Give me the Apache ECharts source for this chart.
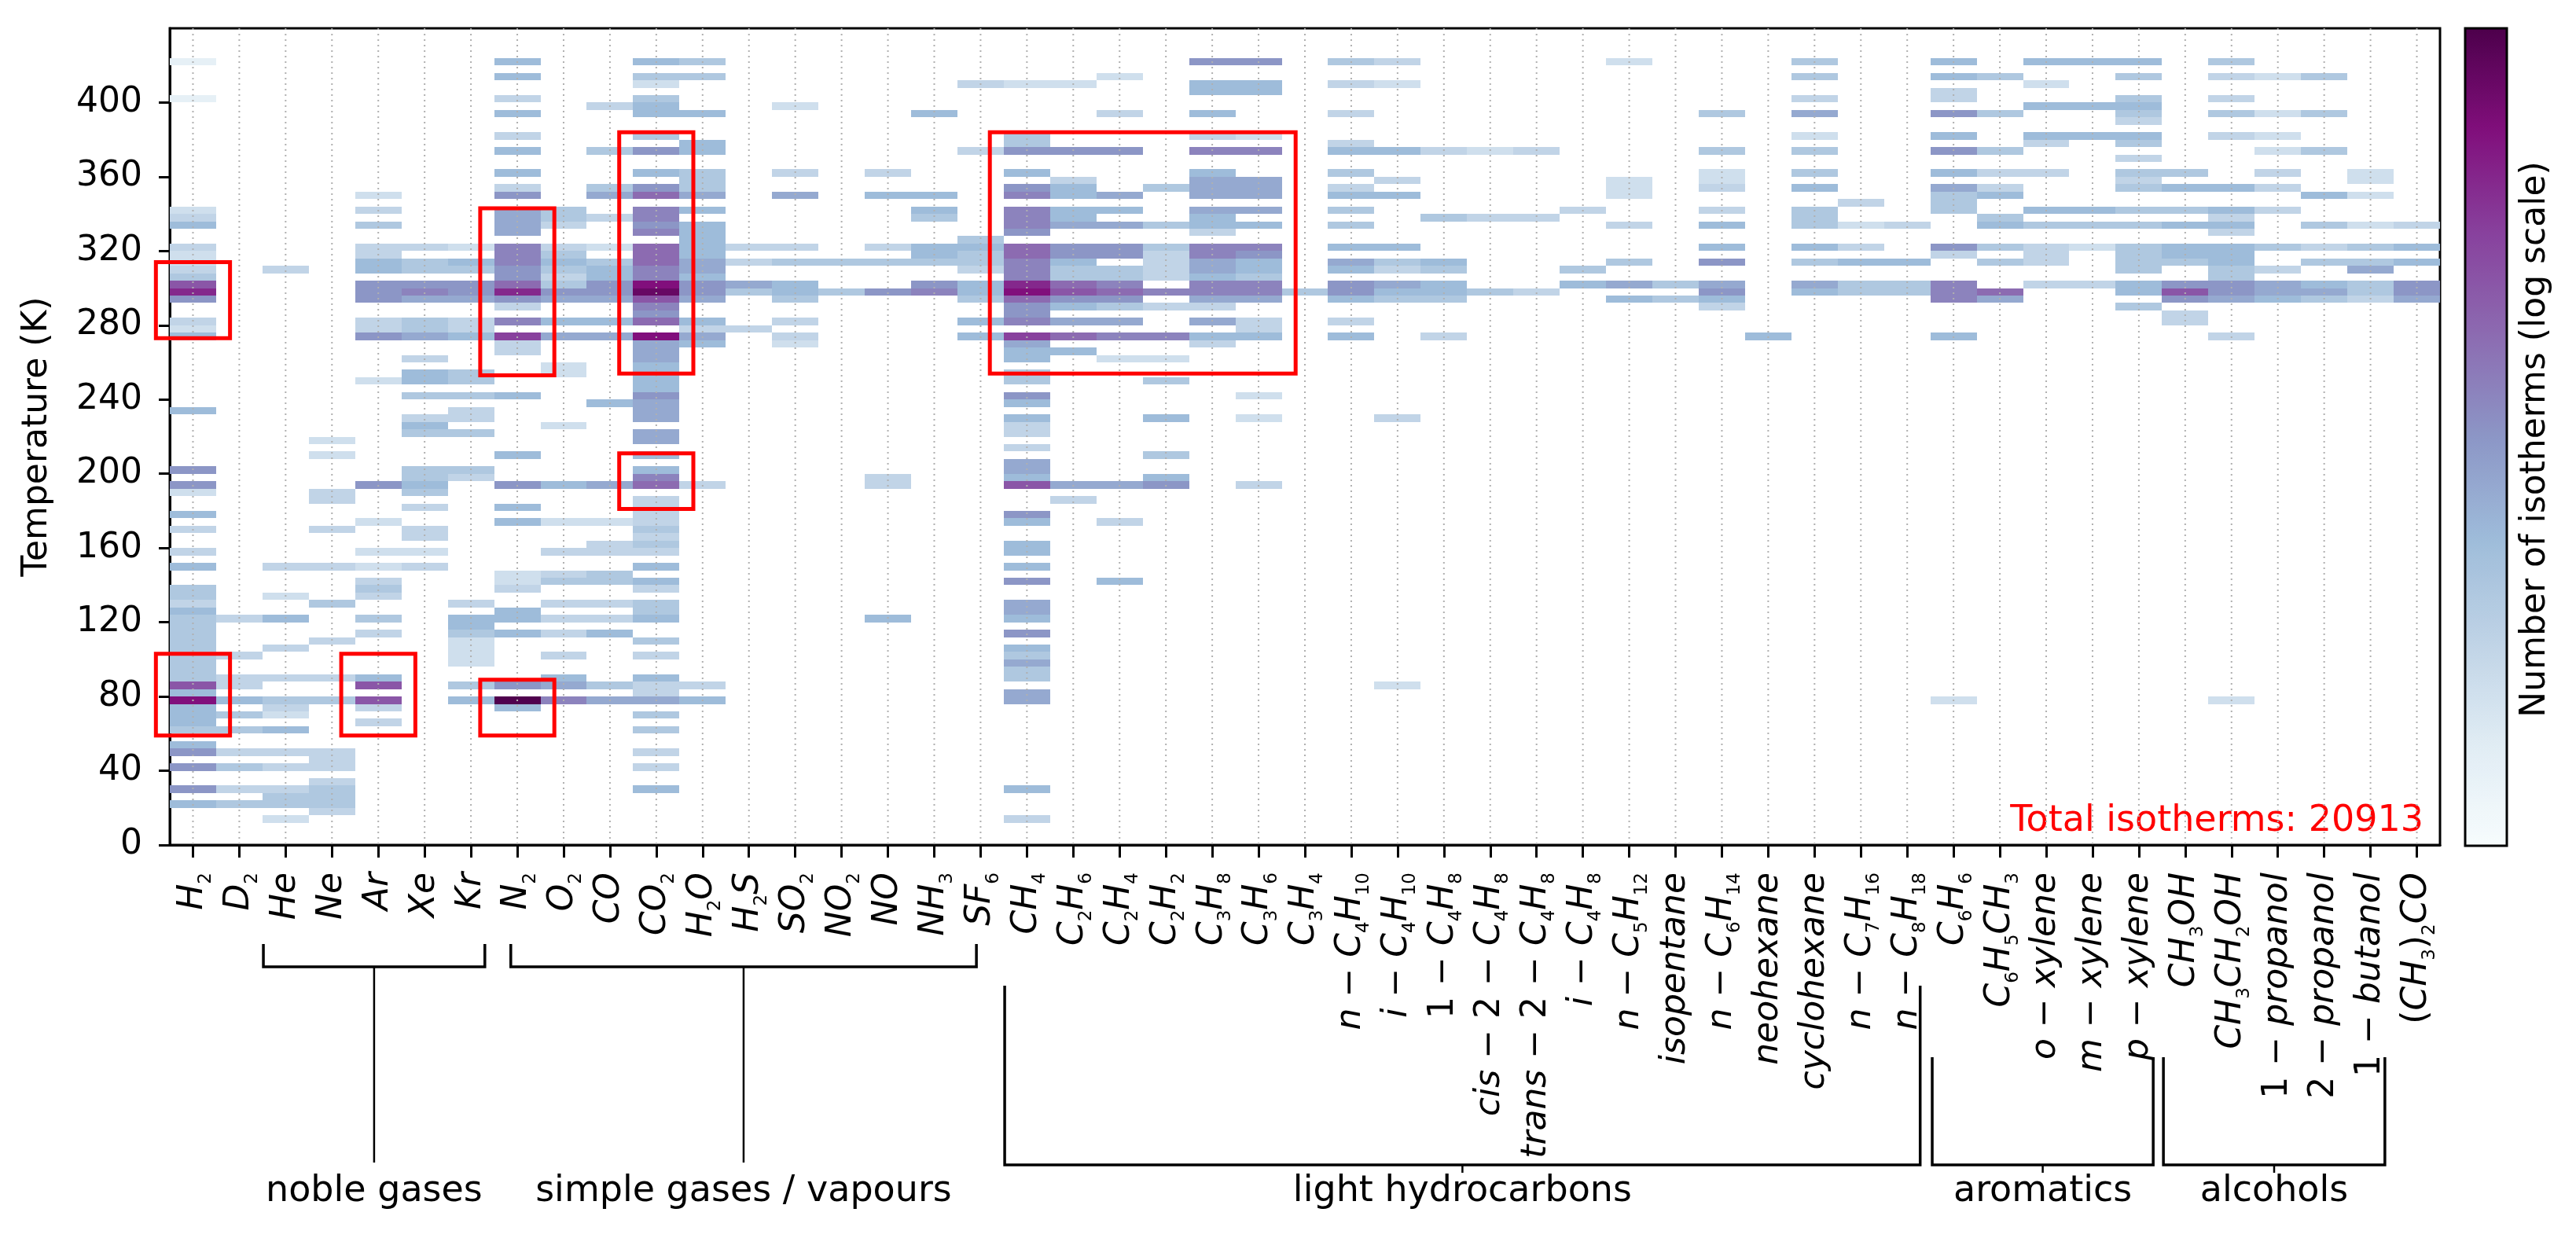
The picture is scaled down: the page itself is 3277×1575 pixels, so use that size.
<!DOCTYPE html>
<html><head><meta charset="utf-8">
<script src="https://cdn.jsdelivr.net/npm/echarts@6.0.0/dist/echarts.min.js"></script>
<style>html,body{margin:0;padding:0;background:#fff}#c{width:3277px;height:1575px}</style>
</head><body><div id="c"></div><script>
const CATEGORIES = ['H2','D2','He','Ne','Ar','Xe','Kr','N2','O2','CO','CO2','H2O','H2S','SO2','NO2','NO','NH3','SF6','CH4','C2H6','C2H4','C2H2','C3H8','C3H6','C3H4','n-C4H10','i-C4H10','1-C4H8','cis-2-C4H8','trans-2-C4H8','i-C4H8','n-C5H12','isopentane','n-C6H14','neohexane','cyclohexane','n-C7H16','n-C8H18','C6H6','C6H5CH3','o-xylene','m-xylene','p-xylene','CH3OH','CH3CH2OH','1-propanol','2-propanol','1-butanol','(CH3)2CO'];
const BIN_K = 4;
const TICKS_K = [0,40,80,120,160,200,240,280,320,360,400];
const TOTAL_ISOTHERMS = 20913;

// [bin start temperature (K), number of isotherms]
const H2 = [[420,2],[400,2],[340,4],[336,6],[332,16],[320,6],[316,4],[312,4],[308,6],[304,10],[300,160],[296,400],[292,40],[280,6],[276,4],[272,16],[232,16],[200,40],[192,40],[188,4],[176,16],[168,6],[156,6],[148,16],[136,10],[132,10],[128,6],[124,16],[120,10],[116,10],[112,10],[108,10],[104,10],[100,10],[96,10],[92,10],[88,10],[84,160],[80,16],[76,630],[72,16],[68,16],[64,16],[60,10],[52,16],[48,40],[40,40],[28,40],[20,16]];
const D2 = [[120,6],[100,6],[88,6],[84,6],[76,16],[68,10],[60,10],[48,6],[40,10],[28,6],[20,10]];
const He = [[308,6],[148,6],[132,4],[120,16],[104,6],[88,6],[76,10],[72,6],[68,4],[60,16],[48,6],[40,6],[28,6],[24,10],[20,10],[12,4]];
const Ne = [[216,4],[208,4],[188,6],[184,6],[168,6],[148,6],[128,10],[108,6],[88,6],[76,10],[48,6],[44,6],[40,6],[32,6],[28,10],[24,10],[20,10],[16,6]];
const Ar = [[348,4],[340,6],[332,10],[320,6],[316,6],[312,16],[308,16],[300,40],[296,40],[292,40],[280,6],[276,6],[272,40],[248,4],[192,40],[172,4],[156,4],[148,4],[140,6],[136,10],[132,6],[120,10],[112,6],[88,16],[84,160],[76,160],[72,6],[64,6]];
const Xe = [[320,6],[312,10],[308,10],[300,40],[296,60],[292,25],[280,10],[276,10],[272,25],[260,6],[252,16],[248,16],[240,10],[228,6],[224,16],[220,10],[200,10],[196,10],[192,16],[188,10],[180,6],[168,6],[164,6],[156,4],[148,6]];
const Kr = [[320,4],[312,16],[308,10],[300,40],[296,40],[292,25],[280,6],[276,6],[272,16],[252,10],[248,10],[240,10],[232,6],[228,6],[220,10],[200,10],[196,6],[128,6],[120,16],[116,16],[112,10],[108,4],[104,4],[100,4],[96,4],[84,10],[76,16]];
const N2 = [[420,16],[412,16],[400,6],[392,16],[380,6],[372,16],[360,16],[352,6],[348,40],[340,25],[336,25],[332,25],[328,25],[320,60],[316,60],[312,60],[308,40],[304,40],[300,100],[296,400],[292,40],[288,6],[280,60],[272,250],[268,6],[264,6],[240,16],[208,16],[192,40],[180,16],[172,16],[144,4],[140,4],[136,6],[124,16],[120,16],[112,16],[84,40],[76,1500],[72,16]];
const O2 = [[340,10],[336,10],[332,6],[320,6],[316,10],[312,16],[308,10],[304,6],[300,10],[296,40],[292,25],[280,16],[272,25],[256,4],[252,4],[224,4],[192,16],[172,4],[156,6],[144,6],[140,10],[128,6],[120,6],[112,6],[100,6],[88,16],[84,25],[76,60]];
const CO = [[396,6],[372,10],[352,10],[348,25],[336,6],[320,4],[312,10],[308,16],[304,16],[300,40],[296,40],[292,25],[280,16],[272,25],[236,16],[192,25],[172,4],[160,6],[156,6],[144,10],[140,10],[128,6],[120,6],[112,16],[84,10],[76,25]];
const CO2 = [[420,16],[412,10],[408,4],[400,10],[396,16],[392,16],[380,10],[372,40],[360,16],[352,40],[348,100],[340,60],[336,60],[332,40],[328,60],[320,100],[316,100],[312,100],[308,60],[304,60],[300,630],[296,1000],[292,160],[288,60],[284,40],[280,100],[272,630],[268,25],[264,25],[260,25],[256,16],[252,16],[248,16],[244,16],[240,40],[236,25],[232,25],[228,25],[220,25],[216,25],[208,16],[200,16],[196,60],[192,100],[184,6],[180,6],[176,6],[172,6],[168,10],[164,6],[160,10],[156,6],[148,16],[140,16],[136,6],[128,10],[124,10],[120,16],[108,10],[100,6],[88,16],[84,6],[80,6],[76,25],[68,10],[60,10],[48,6],[40,6],[28,16]];
const H2O = [[420,10],[412,10],[392,16],[376,16],[372,16],[360,10],[356,10],[352,10],[348,25],[340,16],[332,16],[328,16],[324,16],[320,16],[316,16],[312,25],[308,25],[304,16],[300,40],[296,40],[292,25],[280,16],[276,6],[272,25],[268,16],[192,6],[84,6],[76,16]];
const H2S = [[320,6],[312,6],[300,25],[296,10],[276,6]];
const SO2 = [[396,4],[360,6],[348,25],[320,6],[312,10],[300,16],[296,16],[292,10],[280,6],[272,6],[268,4]];
const NO2 = [[312,10],[296,10]];
const NO = [[360,6],[348,16],[320,6],[312,10],[296,40],[196,6],[192,6],[120,16]];
const NH3 = [[392,16],[348,16],[340,16],[336,10],[320,16],[316,16],[312,10],[300,40],[296,60]];
const SF6 = [[408,6],[372,6],[324,10],[320,16],[316,10],[312,10],[308,6],[300,16],[296,16],[292,10],[280,16],[272,16]];
const CH4 = [[408,4],[380,10],[376,10],[372,40],[360,16],[352,40],[348,60],[340,60],[336,60],[332,60],[328,40],[320,100],[316,100],[312,60],[308,60],[304,60],[300,400],[296,630],[292,100],[288,40],[284,40],[280,60],[272,250],[268,25],[264,16],[260,16],[252,10],[248,10],[240,40],[236,16],[228,16],[224,6],[220,6],[212,6],[204,25],[200,25],[196,16],[192,160],[176,40],[172,16],[160,16],[156,16],[148,16],[140,40],[128,25],[124,25],[120,16],[112,40],[104,16],[100,10],[96,25],[92,10],[88,10],[80,25],[76,25],[28,16],[12,6]];
const C2H6 = [[408,4],[372,40],[356,6],[352,16],[348,16],[340,16],[336,16],[332,25],[320,40],[316,40],[312,16],[308,10],[304,10],[300,100],[296,160],[292,40],[288,16],[280,25],[272,100],[264,16],[192,25],[184,6]];
const C2H4 = [[412,4],[392,6],[372,40],[348,25],[340,16],[332,25],[320,40],[316,40],[308,10],[304,10],[300,60],[296,100],[292,40],[288,10],[280,25],[272,60],[260,4],[192,25],[172,6],[140,16]];
const C2H2 = [[352,10],[332,10],[320,10],[316,6],[312,6],[308,6],[304,6],[296,60],[288,6],[272,60],[260,4],[248,10],[228,16],[208,10],[196,16],[192,40]];
const C3H8 = [[420,40],[408,16],[404,16],[392,16],[380,6],[372,60],[360,16],[356,25],[352,25],[348,25],[340,25],[336,16],[332,16],[328,6],[320,60],[316,60],[312,25],[308,25],[304,16],[300,60],[296,60],[292,25],[288,6],[280,25],[272,16],[268,6]];
const C3H6 = [[420,40],[408,16],[404,16],[380,4],[372,60],[356,25],[352,25],[348,25],[340,25],[332,16],[320,60],[316,40],[312,16],[308,16],[304,10],[300,60],[296,60],[292,25],[280,6],[276,6],[272,16],[240,4],[228,4],[192,6]];
const C3H4 = [[296,10]];
const nC4H10 = [[420,10],[408,6],[392,6],[376,6],[372,16],[360,10],[352,6],[348,16],[340,10],[332,10],[320,16],[312,25],[308,16],[300,40],[296,40],[292,16],[280,6],[272,16]];
const iC4H10 = [[420,6],[408,4],[372,16],[356,6],[348,16],[320,16],[312,10],[308,6],[300,25],[296,16],[292,10],[228,6],[84,4]];
const C4H8_1 = [[372,6],[336,10],[312,16],[308,10],[300,16],[296,16],[292,10],[272,6]];
const cis2C4H8 = [[372,4],[336,6],[296,10]];
const trans2C4H8 = [[372,6],[336,6],[296,6]];
const iC4H8 = [[340,6],[308,10],[300,16]];
const nC5H12 = [[420,4],[356,4],[352,4],[348,4],[332,6],[312,10],[300,25],[292,16]];
const isopentane = [[300,10],[292,10]];
const nC6H14 = [[392,10],[372,10],[360,4],[356,4],[352,6],[340,6],[332,16],[320,16],[312,40],[300,25],[296,40],[292,16],[288,6]];
const neohexane = [[272,16]];
const cyclohexane = [[420,10],[412,10],[400,6],[392,25],[380,4],[372,10],[360,10],[352,16],[340,10],[336,10],[332,10],[320,16],[312,10],[300,25],[296,16]];
const nC7H16 = [[344,6],[332,4],[320,6],[312,16],[300,10],[296,10]];
const nC8H18 = [[332,6],[312,16],[300,10],[296,10]];
const C6H6 = [[420,16],[412,16],[404,6],[400,6],[392,40],[380,16],[372,40],[360,16],[352,25],[348,10],[344,10],[340,10],[320,40],[316,6],[300,60],[296,60],[292,60],[272,16],[76,4]];
const C6H5CH3 = [[412,10],[392,10],[372,10],[360,6],[352,6],[348,16],[336,10],[332,16],[320,10],[312,10],[296,100],[292,25]];
const oXylene = [[420,16],[408,4],[396,16],[380,16],[376,6],[360,6],[340,16],[332,10],[320,6],[316,6],[312,6],[300,6]];
const mXylene = [[420,16],[396,16],[380,16],[340,16],[332,10],[320,4],[300,6]];
const pXylene = [[420,16],[412,10],[400,10],[396,16],[392,10],[388,6],[380,16],[376,10],[368,6],[360,10],[356,6],[352,10],[340,10],[332,10],[320,10],[316,10],[312,10],[308,10],[300,16],[296,16],[288,10]];
const CH3OH = [[360,10],[352,16],[340,10],[332,16],[320,16],[316,16],[312,10],[300,40],[296,160],[292,40],[284,6],[280,6]];
const CH3CH2OH = [[420,10],[412,6],[400,6],[392,10],[380,6],[352,16],[340,16],[336,6],[332,16],[328,6],[320,16],[316,16],[312,16],[308,10],[304,10],[300,40],[296,40],[292,25],[272,6],[76,4]];
const propanol1 = [[412,4],[392,4],[380,4],[372,4],[360,6],[352,6],[340,6],[320,10],[308,6],[300,25],[296,25],[292,16]];
const propanol2 = [[412,10],[392,10],[372,10],[348,16],[332,10],[320,6],[312,10],[300,16],[296,25],[292,10]];
const butanol1 = [[360,4],[356,4],[348,4],[332,4],[320,10],[312,10],[308,25],[300,10],[296,10],[292,6]];
const acetone = [[332,6],[320,16],[312,16],[300,40],[296,40],[292,25]];

const COLUMNS = [H2,D2,He,Ne,Ar,Xe,Kr,N2,O2,CO,CO2,H2O,H2S,SO2,NO2,NO,NH3,SF6,CH4,C2H6,C2H4,C2H2,C3H8,C3H6,C3H4,nC4H10,iC4H10,C4H8_1,cis2C4H8,trans2C4H8,iC4H8,nC5H12,isopentane,nC6H14,neohexane,cyclohexane,nC7H16,nC8H18,C6H6,C6H5CH3,oXylene,mXylene,pXylene,CH3OH,CH3CH2OH,propanol1,propanol2,butanol1,acetone];

// highlighted regions: [first category, last category, T low, T high]
const HIGHLIGHTS = [['H2','H2',273,314],['H2','H2',59,103],['Ar','Ar',59,103],['N2','N2',59,89],['N2','N2',253,343],['CO2','CO2',254,384],['CO2','CO2',181,211],['CH4','C3H6',254,384]];

// category groups (span in cell units from the left edge of the plot)
const GROUPS = [
  {name:'noble gases', span:[2.02,6.80], kind:'stem'},
  {name:'simple gases / vapours', span:[7.36,17.41], kind:'stem'},
  {name:'light hydrocarbons', span:[18.02,37.78], kind:'cup', top:1254},
  {name:'aromatics', span:[38.04,42.81], kind:'cup', top:1345},
  {name:'alcohols', span:[43.03,47.81], kind:'cup', top:1345}
];

const BUPU = ['#f7fcfd','#e0ecf4','#bfd3e6','#9ebcda','#8c96c6','#8c6bb1','#88419d','#810f7c','#4d004b'];
const FONT = 'DejaVu Sans';

const cells = [];
COLUMNS.forEach((col, i) => col.forEach(([t, n]) => cells.push([i, t, t + BIN_K, Math.log10(n), n])));

function fmtLabel(name) {
  let out = '';
  const re = /([A-Za-z]+)|(\d+)|(-)|([()])/g;
  let m, prev = '';
  while ((m = re.exec(name)) !== null) {
    if (m[1]) out += '{i|' + m[1] + '}';
    else if (m[2]) out += (/[A-Za-z)]/.test(prev) ? '{s|' : '{u|') + m[2] + '}';
    else if (m[3]) out += '{u| − }';
    else if (m[4]) out += '{u|' + m[4] + '}';
    prev = m[0].slice(-1);
  }
  return out;
}

function renderCell(params, api) {
  const x = api.value(0);
  const p0 = api.coord([x, api.value(1)]);
  const p1 = api.coord([x, api.value(2)]);
  const w = api.size([1, 0])[0];
  const xl = Math.round(p0[0] - w / 2), xr = Math.round(p0[0] + w / 2);
  const yt = Math.round(p1[1]), yb = Math.round(p0[1]);
  return {type:'rect', shape:{x:xl, y:yt, width:xr - xl, height:yb - yt}, style:{fill: api.visual('color')}};
}
function renderGrid(params, api) {
  const x = api.coord([api.value(0), 0])[0];
  const cs = params.coordSys;
  return {type:'line', shape:{x1:x, y1:cs.y, x2:x, y2:cs.y + cs.height}, style:{stroke:'#b0b0b0', lineWidth:2, lineDash:[2,5]}};
}
function renderBox(params, api) {
  const a = api.coord([api.value(0), api.value(3)]);
  const b = api.coord([api.value(1), api.value(2)]);
  const w = api.size([1, 0])[0];
  const pad = 0.8 * w;
  return {type:'rect', shape:{x:a[0] - pad, y:a[1], width:b[0] - a[0] + 2 * pad, height:b[1] - a[1]}, style:{fill:'none', stroke:'#ff0000', lineWidth:5}};
}

const chart = echarts.init(document.getElementById('c'), null, {renderer:'canvas'});
const GRID = {left:216, top:36, width:2888, height:1039};
chart.setOption({
  animation:false,
  backgroundColor:'#ffffff',
  grid:{left:GRID.left, top:GRID.top, width:GRID.width, height:GRID.height, show:true, borderColor:'#000', borderWidth:3, containLabel:false, outerBoundsMode:'none'},
  xAxis:{type:'category', data:CATEGORIES, boundaryGap:true,
    axisLine:{show:true, lineStyle:{color:'#000', width:3}},
    axisTick:{show:true, alignWithLabel:true, interval:0, length:16, lineStyle:{color:'#000', width:3}},
    splitLine:{show:false},
    axisLabel:{interval:0, rotate:90, margin:35, color:'#000', formatter:fmtLabel,
      rich:{
        i:{fontSize:44, fontStyle:'italic', fontFamily:FONT, lineHeight:56, color:'#000'},
        u:{fontSize:44, fontFamily:FONT, lineHeight:56, color:'#000'},
        s:{fontSize:23, fontFamily:FONT, lineHeight:27, verticalAlign:'bottom', color:'#000'}
      }}
  },
  yAxis:{type:'value', min:0, max:440,
    axisLine:{show:true, lineStyle:{color:'#000', width:3}},
    axisTick:{show:true, length:14, customValues:TICKS_K, lineStyle:{color:'#000', width:3}},
    axisLabel:{customValues:TICKS_K, fontSize:44, color:'#000', fontFamily:FONT, margin:35},
    splitLine:{show:false},
    name:'Temperature (K)', nameLocation:'middle', nameGap:146,
    nameTextStyle:{fontSize:44, color:'#000', fontFamily:FONT}
  },
  visualMap:{type:'continuous', seriesIndex:0, dimension:3, min:0, max:3.2, show:true, calculable:false,
    orient:'vertical', left:3136, top:36, itemWidth:53, itemHeight:1040, padding:0, text:null,
    inRange:{color:BUPU}},
  series:[
    {type:'custom', name:'isotherms', renderItem:renderCell, data:cells, encode:{x:0, y:[1,2]}, clip:true, z:2},
    {type:'custom', name:'grid', renderItem:renderGrid, data:CATEGORIES.map((c, i) => [i, 0]), encode:{x:0, y:1}, z:3, silent:true},
    {type:'custom', name:'highlights', renderItem:renderBox,
      data:HIGHLIGHTS.map(([c1, c2, lo, hi]) => [CATEGORIES.indexOf(c1), CATEGORIES.indexOf(c2), lo, hi]),
      encode:{x:[0,1], y:[2,3]}, clip:false, z:4, silent:true}
  ]
});

// annotations positioned from the axis scale
const c0 = chart.convertToPixel({xAxisIndex:0}, 0);
const c1 = chart.convertToPixel({xAxisIndex:0}, 1);
const cw = c1 - c0;
const x0 = c0 - cw / 2;
const ux = u => x0 + u * cw;
const graphics = [];
const LINE = {stroke:'#000', lineWidth:3.5, fill:null};
GROUPS.forEach(g => {
  const xl = ux(g.span[0]), xr = ux(g.span[1]), xm = (xl + xr) / 2;
  if (g.kind === 'stem') {
    graphics.push({type:'polyline', shape:{points:[[xl,1201],[xl,1230],[xr,1230],[xr,1201]]}, style:LINE});
    graphics.push({type:'line', shape:{x1:xm, y1:1230, x2:xm, y2:1479}, style:{stroke:'#000', lineWidth:2.5}});
  } else {
    graphics.push({type:'polyline', shape:{points:[[xl,g.top],[xl,1482],[xr,1482],[xr,g.top]]}, style:LINE});
    graphics.push({type:'line', shape:{x1:xm, y1:1482, x2:xm, y2:1492}, style:{stroke:'#000', lineWidth:2.5}});
  }
  graphics.push({type:'text', x:xm, y:1516, style:{text:g.name, fontSize:46, fontFamily:FONT, fill:'#000', align:'center', verticalAlign:'middle'}});
});
graphics.push({type:'text', x:GRID.left + GRID.width - 21, y:1068, style:{text:'Total isotherms: ' + TOTAL_ISOTHERMS, fontSize:46, fontFamily:FONT, fill:'#ff0000', align:'right', verticalAlign:'bottom'}});
graphics.push({type:'rect', shape:{x:3136, y:36, width:53, height:1040}, style:{fill:'none', stroke:'#000', lineWidth:3}, z:100});
graphics.push({type:'text', x:3226, y:559, rotation:Math.PI / 2, style:{text:'Number of isotherms (log scale)', fontSize:44, fontFamily:FONT, fill:'#000', align:'center', verticalAlign:'middle'}});
chart.setOption({graphic:graphics});
</script></body></html>
